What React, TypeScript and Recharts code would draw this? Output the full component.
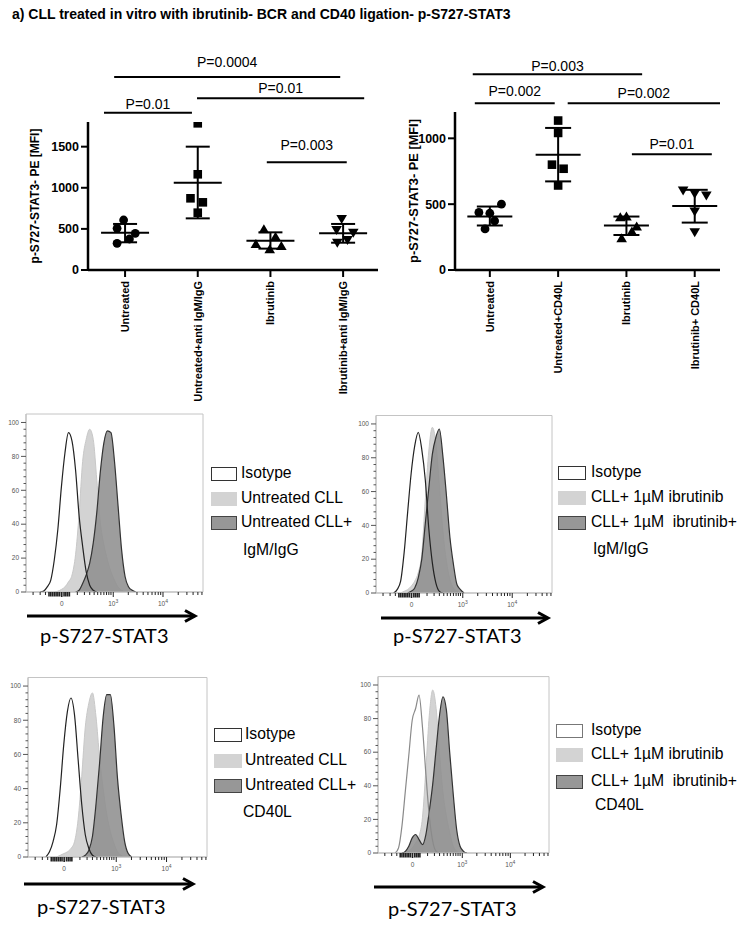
import React from 'react';
import {
  ComposedChart,
  Scatter,
  XAxis,
  YAxis,
  ErrorBar,
  ReferenceLine,
  AreaChart,
  Area,
  ReferenceArea,
} from 'recharts';

const FONT = '"Liberation Sans", Arial, Helvetica, sans-serif';

// ---------------- Scatter panels: data ----------------
const bcrCategories = ['Untreated', 'Untreated+anti IgM/IgG', 'Ibrutinib', 'Ibrutinib+anti IgM/IgG'];
const cd40Categories = ['Untreated', 'Untreated+CD40L', 'Ibrutinib', 'Ibrutinib+ CD40L'];
const bcrYTicks = [0, 500, 1000, 1500];
const cd40YTicks = [0, 500, 1000];

const bcrUntreated = [608, 507, 446, 377, 324];
const bcrUntreatedJitter = [-0.02, -0.11, 0.14, 0.06, -0.11];
const bcrStim = [1784, 1164, 872, 823, 697];
const bcrStimJitter = [0, 0, -0.1, 0.07, 0];
const bcrIbr = [495, 405, 316, 292, 251];
const bcrIbrJitter = [-0.09, 0.07, -0.2, 0.15, -0.01];
const bcrIbrStim = [620, 487, 454, 365, 332];
const bcrIbrStimJitter = [-0.02, -0.09, 0.14, 0.06, -0.08];
const bcrMean = [454, 1062, 357, 446];
const bcrSdLow = [337, 628, 260, 332];
const bcrSdHigh = [560, 1500, 458, 560];

const cd40Untreated = [437, 431, 500, 373, 312];
const cd40UntreatedJitter = [-0.16, 0, 0.17, 0.07, -0.07];
const cd40Stim = [1135, 1041, 800, 769, 642];
const cd40StimJitter = [0, 0, -0.09, 0.08, 0];
const cd40Ibr = [401, 406, 330, 292, 241];
const cd40IbrJitter = [-0.09, 0, 0.15, 0.08, -0.07];
const cd40IbrStim = [604, 579, 566, 444, 287];
const cd40IbrStimJitter = [-0.17, 0, 0.17, 0, 0];
const cd40Mean = [406, 876, 338, 487];
const cd40SdLow = [338, 673, 266, 360];
const cd40SdHigh = [482, 1079, 406, 609];

// significance brackets (x in category units, y in MFI units)
const bcrPLabels = ['P=0.0004', 'P=0.01', 'P=0.01', 'P=0.003'];
const bcrPFrom = [0.85, 0.71, 1.99, 2.95];
const bcrPTo = [3.96, 1.92, 4.29, 4.05];
const bcrPLevel = [2347, 1913, 2088, 1310];
const cd40PLabels = ['P=0.003', 'P=0.002', 'P=0.002', 'P=0.01'];
const cd40PFrom = [0.75, 0.78, 2.14, 3.08];
const cd40PTo = [3.23, 1.95, 4.37, 4.25];
const cd40PLevel = [1486, 1266, 1266, 879];

// ---------------- Histogram panels: data ----------------
const histU = [6, 8, 10, 12, 14, 16, 18, 20, 22, 24, 26, 28, 30, 32, 34, 36, 38, 40, 42, 44, 46, 48, 50, 52, 54, 56, 58, 60, 62, 64];
const N = null;
const h1Isotype = [N, 0, 0.5, 3, 7, 19, 37, 62, 82, 94, 89, 72, 45, 27, 12, 4, 1, 0, N, N, N, N, N, N, N, N, N, N, N, N];
const h1Untreated = [N, N, N, N, N, 0, 0.5, 1.5, 3, 6, 10, 22, 46, 77, 90, 96, 90, 66, 41, 28, 19, 12, 7, 3, 1, 0, N, N, N, N];
const h1Stim = [N, N, N, N, N, N, N, N, N, N, N, 0, 1, 5, 10, 17, 29, 47, 71, 88, 95, 94, 77, 51, 25, 9, 3, 1, 0, N];

const h2Isotype = [N, N, 0, 2, 7, 24, 48, 71, 87, 95, 85, 67, 38, 18, 6, 1, 0, N, N, N, N, N, N, N, N, N, N, N, N, N];
const h2Ibr = [N, N, N, N, 0, 1, 2, 4, 7, 12, 23, 55, 84, 98, 89, 64, 37, 19, 8, 3, 1, 0, N, N, N, N, N, N, N, N];
const h2IbrStim = [N, N, N, N, N, N, 0, 1, 3, 9, 20, 41, 62, 82, 92, 97, 81, 58, 33, 17, 5, 2, 0, N, N, N, N, N, N, N];

const h3Isotype = [N, N, 0, 3, 9, 19, 40, 66, 85, 93, 83, 57, 31, 13, 5, 1, 0, N, N, N, N, N, N, N, N, N, N, N, N, N];
const h3Untreated = [N, N, N, N, N, 0, 1, 2, 3, 5, 9, 22, 47, 76, 90, 96, 82, 58, 40, 25, 15, 8, 3, 1, 0, N, N, N, N, N];
const h3Stim = [N, N, N, N, N, N, N, N, N, N, N, N, 0, 1, 4, 12, 31, 55, 82, 95, 95, 77, 46, 25, 9, 2, 0, N, N, N];

const h4Isotype = [N, N, 0, 3, 16, 37, 58, 79, 86, 94, 75, 47, 22, 7, 1, 0, N, N, N, N, N, N, N, N, N, N, N, N, N, N];
const h4Ibr = [N, N, N, N, N, 0, 1, 3, 6, 10, 21, 50, 82, 97, 86, 59, 36, 22, 12, 4, 1, 0, N, N, N, N, N, N, N, N];
const h4IbrStim = [N, N, N, N, 0, 1, 4, 9, 11, 8, 5, 11, 25, 41, 62, 82, 93, 85, 59, 35, 14, 4, 1, 0, N, N, N, N, N, N];

const histXTicks = [4, 8, 11, 13, 14, 15, 16, 17, 18, 19, 20.2, 21.5, 22.5, 23.5, 24.5, 29, 33, 36, 38.5, 40.5, 42.3, 44, 45.5, 46.8, 48, 49.3, 57.8, 62.7, 66.2, 68.9, 71.2, 73, 74.7, 76.1, 77.4, 86, 90.9, 94.4, 97.1, 99.4];
const histXMajor = [20.2, 49.3, 77.4];
const histXMajorBase = ['0', '10', '10'];
const histXMajorExp = ['', '3', '4'];
const histYTicks = [0, 4, 8, 12, 16, 20, 24, 28, 32, 36, 40, 44, 48, 52, 56, 60, 64, 68, 72, 76, 80, 84, 88, 92, 96, 100];

const legendBCR1 = ['Isotype', 'Untreated CLL', 'Untreated CLL+', 'IgM/IgG'];
const legendBCR2 = ['Isotype', 'CLL+ 1\u00B5M ibrutinib', 'CLL+ 1\u00B5M  ibrutinib+', 'IgM/IgG'];
const legendCD1 = ['Isotype', 'Untreated CLL', 'Untreated CLL+', 'CD40L'];
const legendCD2 = ['Isotype', 'CLL+ 1\u00B5M ibrutinib', 'CLL+ 1\u00B5M  ibrutinib+', 'CD40L'];
const histAxisTitle = 'p-S727-STAT3';
const scatterYTitle = 'p-S727-STAT3- PE [MFI]';
const figureTitle = 'a) CLL treated in vitro with ibrutinib- BCR and CD40 ligation- p-S727-STAT3';

// ---------------- Shapes ----------------
const CircleShape = (p: any) => <circle cx={p.cx} cy={p.cy} r={4.4} fill="#000" />;
const SquareShape = (p: any) => <rect x={p.cx - 4.3} y={p.cy - 4.3} width={8.6} height={8.6} fill="#000" />;
const TriUpShape = (p: any) => (
  <path d={`M${p.cx},${p.cy - 5} L${p.cx + 5.3},${p.cy + 4} L${p.cx - 5.3},${p.cy + 4} Z`} fill="#000" />
);
const TriDownShape = (p: any) => (
  <path d={`M${p.cx},${p.cy + 5} L${p.cx + 5.3},${p.cy - 4} L${p.cx - 5.3},${p.cy - 4} Z`} fill="#000" />
);
const makeMeanShape = (half: number) => (p: any) => (
  <line x1={p.cx - half} x2={p.cx + half} y1={p.cy} y2={p.cy} stroke="#000" strokeWidth={2} />
);

const CatTick = (p: any) => {
  const { x, y, payload, labels } = p;
  const label = labels[Math.round(payload.value) - 1];
  return (
    <text
      x={x}
      y={y}
      transform={`rotate(-90 ${x} ${y})`}
      textAnchor="end"
      dy="0.36em"
      fontSize={11}
      fontWeight="bold"
      fontFamily={FONT}
      fill="#000"
    >
      {label}
    </text>
  );
};

type ScatterProps = {
  left: number;
  width: number;
  plotLeft: number;
  plotRight: number;
  plotTop: number;
  yMax: number;
  yTicks: number[];
  xDomain: [number, number];
  categories: string[];
  groups: { values: number[]; jitter: number[] }[];
  means: number[];
  sdLow: number[];
  sdHigh: number[];
  pLabels: string[];
  pFrom: number[];
  pTo: number[];
  pLevel: number[];
  pOffsets: number[];
  meanHalf: number;
  capHalf: number;
  titleOffset: number;
  titleSize: number;
};

const shapes = [CircleShape, SquareShape, TriUpShape, TriDownShape];

function ScatterPanel(props: ScatterProps) {
  const height = 420;
  const plotBottom = 270;
  const groupData = props.groups.map((g, gi) => g.values.map((v, i) => ({ x: gi + 1 + g.jitter[i], y: v })));
  const meanData = props.means.map((m, i) => ({ x: i + 1, y: m, err: [m - props.sdLow[i], props.sdHigh[i] - m] }));
  const MeanShape = makeMeanShape(props.meanHalf);
  return (
    <div style={{ position: 'absolute', left: props.left, top: 0 }}>
      <ComposedChart
        width={props.width}
        height={height}
        margin={{ top: props.plotTop, right: props.left + props.width - props.plotRight, bottom: 0, left: 0 }}
      >
        <XAxis
          type="number"
          dataKey="x"
          domain={props.xDomain}
          allowDataOverflow
          ticks={[1, 2, 3, 4]}
          interval={0}
          height={height - plotBottom}
          axisLine={{ stroke: '#000', strokeWidth: 2.5 }}
          tickLine={{ stroke: '#000', strokeWidth: 2 }}
          tickSize={7}
          tickMargin={4}
          tick={(p: any) => <CatTick {...p} labels={props.categories} />}
        />
        <YAxis
          type="number"
          dataKey="y"
          domain={[0, props.yMax]}
          allowDataOverflow
          ticks={props.yTicks}
          interval={0}
          width={props.plotLeft - props.left}
          axisLine={{ stroke: '#000', strokeWidth: 2.5 }}
          tickLine={{ stroke: '#000', strokeWidth: 2 }}
          tickSize={7}
          tickMargin={2}
          tick={{ fill: '#000', fontSize: 12.5, fontWeight: 'bold', fontFamily: FONT }}
          label={{
            value: scatterYTitle,
            angle: -90,
            position: 'insideLeft',
            offset: props.titleOffset,
            style: { textAnchor: 'middle', fontSize: props.titleSize, fontWeight: 'bold', fontFamily: FONT, fill: '#000' },
          }}
        />
        {props.pLabels.map((lab, i) => (
          <ReferenceLine
            key={'p' + i}
            segment={[
              { x: props.pFrom[i], y: props.pLevel[i] },
              { x: props.pTo[i], y: props.pLevel[i] },
            ]}
            stroke="#000"
            strokeWidth={2}
            ifOverflow="visible"
            label={{
              value: lab,
              position: 'top',
              offset: props.pOffsets[i],
              fontSize: 14,
              fontFamily: FONT,
              fill: '#000',
            }}
          />
        ))}
        {groupData.map((d, gi) => (
          <Scatter key={'g' + gi} data={d} shape={shapes[gi]} isAnimationActive={false} />
        ))}
        <Scatter data={meanData} shape={MeanShape} isAnimationActive={false}>
          <ErrorBar dataKey="err" direction="y" width={props.capHalf} stroke="#000" strokeWidth={2} />
        </Scatter>
      </ComposedChart>
    </div>
  );
}

// ---------------- Histograms ----------------
const HistXTick = (p: any) => {
  const { x, y, payload } = p;
  const v = payload.value;
  const mi = histXMajor.indexOf(v);
  const dense = v > 12.5 && v < 25;
  const len = mi >= 0 ? 5 : dense ? 4.5 : 3;
  return (
    <g>
      <line x1={x} x2={x} y1={y} y2={y + len} stroke="#222" strokeWidth={dense ? 1.6 : 1} />
      {mi >= 0 && (
        <text x={x} y={y + 14} textAnchor="middle" fontSize={6.5} fill="#555" fontFamily={FONT}>
          {histXMajorBase[mi]}
          {histXMajorExp[mi] ? (
            <tspan dy={-3} fontSize={5}>
              {histXMajorExp[mi]}
            </tspan>
          ) : null}
        </text>
      )}
    </g>
  );
};

const HistYTick = (p: any) => {
  const { x, y, payload } = p;
  const v = payload.value;
  const major = v % 20 === 0;
  return (
    <g>
      <line x1={x} x2={x - (major ? 5 : 2.5)} y1={y} y2={y} stroke="#555" strokeWidth={1} />
      {major && (
        <text x={x - 7} y={y} dy="0.35em" textAnchor="end" fontSize={6.5} fill="#555" fontFamily={FONT}>
          {v}
        </text>
      )}
    </g>
  );
};

type HistProps = {
  frame: { left: number; top: number; width: number; height: number };
  box: { x0: number; x1: number; yTop: number; yBottom: number };
  iso: (number | null)[];
  light: (number | null)[];
  dark: (number | null)[];
  isoStroke: string;
};

function HistPanel({ frame, box, iso, light, dark, isoStroke }: HistProps) {
  const data = histU.map((u, i) => ({ u, iso: iso[i], light: light[i], dark: dark[i] }));
  return (
    <div style={{ position: 'absolute', left: frame.left, top: frame.top }}>
      <AreaChart
        width={frame.width}
        height={frame.height}
        data={data}
        margin={{ top: box.yTop - frame.top, right: frame.left + frame.width - box.x1, bottom: 0, left: 0 }}
      >
        <XAxis
          type="number"
          dataKey="u"
          domain={[0, 100]}
          allowDataOverflow
          ticks={histXTicks}
          interval={0}
          height={frame.top + frame.height - box.yBottom}
          axisLine={{ stroke: '#bdbdbd' }}
          tickLine={false}
          tickSize={0}
          tickMargin={0}
          tick={HistXTick}
        />
        <YAxis
          type="number"
          domain={[0, 105]}
          allowDataOverflow
          ticks={histYTicks}
          interval={0}
          width={box.x0 - frame.left}
          axisLine={{ stroke: '#bdbdbd' }}
          tickLine={false}
          tickSize={0}
          tickMargin={0}
          tick={HistYTick}
        />
        <ReferenceArea x1={0} x2={100} y1={0} y2={105} fill="none" stroke="#c4c4c4" strokeWidth={1} ifOverflow="visible" />
        <Area
          type="monotone"
          dataKey="light"
          fill="#d3d3d3"
          fillOpacity={1}
          stroke="#c8c8c8"
          strokeWidth={1}
          dot={false}
          activeDot={false}
          isAnimationActive={false}
        />
        <Area
          type="monotone"
          dataKey="dark"
          fill="#8f8f8f"
          fillOpacity={0.88}
          stroke="#333"
          strokeWidth={1.2}
          dot={false}
          activeDot={false}
          isAnimationActive={false}
        />
        <Area
          type="monotone"
          dataKey="iso"
          fill="none"
          stroke={isoStroke}
          strokeWidth={1.2}
          dot={false}
          activeDot={false}
          isAnimationActive={false}
        />
      </AreaChart>
    </div>
  );
}

type LegendProps = {
  labels: string[];
  swatchX: number;
  swatchW: number;
  textX: number;
  rows: number[];
  lastX: number;
  lastY: number;
  isoBorder: string;
};

function HistLegend({ labels, swatchX, swatchW, textX, rows, lastX, lastY, isoBorder }: LegendProps) {
  const swatches = [
    { background: '#fff', border: `1px solid ${isoBorder}` },
    { background: '#d3d3d3', border: '1px solid #d3d3d3' },
    { background: '#979797', border: '1px solid #444' },
  ];
  const textStyle: React.CSSProperties = {
    position: 'absolute',
    fontFamily: FONT,
    fontSize: 15.7,
    lineHeight: '18px',
    color: '#000',
    whiteSpace: 'pre',
  };
  return (
    <>
      {rows.map((cy, i) => (
        <React.Fragment key={i}>
          <div
            style={{
              position: 'absolute',
              left: swatchX,
              top: cy - 7,
              width: swatchW,
              height: 14,
              boxSizing: 'border-box',
              ...swatches[i],
            }}
          />
          <div style={{ ...textStyle, left: textX, top: cy - 10 }}>{labels[i]}</div>
        </React.Fragment>
      ))}
      <div style={{ ...textStyle, left: lastX, top: lastY - 10 }}>{labels[3]}</div>
    </>
  );
}

const arrows = [
  { x1: 27, x2: 195, y: 616, tx: 40, ty: 643 },
  { x1: 381, x2: 548, y: 618, tx: 393, ty: 643 },
  { x1: 24, x2: 193, y: 884, tx: 37, ty: 914 },
  { x1: 374, x2: 543, y: 887, tx: 388, ty: 916 },
];

export default function App() {
  return (
    <div
      style={{
        position: 'absolute',
        left: 0,
        top: 0,
        width: 751,
        height: 926,
        background: '#fff',
        overflow: 'hidden',
        fontFamily: FONT,
      }}
    >
      <div
        style={{
          position: 'absolute',
          left: 12,
          top: 6,
          fontSize: 14,
          lineHeight: '16px',
          fontWeight: 'bold',
          whiteSpace: 'nowrap',
          color: '#000',
        }}
      >
        {figureTitle}
      </div>

      <ScatterPanel
        left={0}
        width={380}
        plotLeft={88}
        plotRight={378}
        plotTop={122}
        yMax={1800}
        yTicks={bcrYTicks}
        xDomain={[0.49, 4.48]}
        categories={bcrCategories}
        groups={[
          { values: bcrUntreated, jitter: bcrUntreatedJitter },
          { values: bcrStim, jitter: bcrStimJitter },
          { values: bcrIbr, jitter: bcrIbrJitter },
          { values: bcrIbrStim, jitter: bcrIbrStimJitter },
        ]}
        means={bcrMean}
        sdLow={bcrSdLow}
        sdHigh={bcrSdHigh}
        pLabels={bcrPLabels}
        pFrom={bcrPFrom}
        pTo={bcrPTo}
        pLevel={bcrPLevel}
        pOffsets={[10, 4, 5, 12]}
        meanHalf={24}
        capHalf={12}
        titleOffset={35}
        titleSize={12}
      />
      <ScatterPanel
        left={380}
        width={371}
        plotLeft={455}
        plotRight={720}
        plotTop={112}
        yMax={1200}
        yTicks={cd40YTicks}
        xDomain={[0.49, 4.37]}
        categories={cd40Categories}
        groups={[
          { values: cd40Untreated, jitter: cd40UntreatedJitter },
          { values: cd40Stim, jitter: cd40StimJitter },
          { values: cd40Ibr, jitter: cd40IbrJitter },
          { values: cd40IbrStim, jitter: cd40IbrStimJitter },
        ]}
        means={cd40Mean}
        sdLow={cd40SdLow}
        sdHigh={cd40SdHigh}
        pLabels={cd40PLabels}
        pFrom={cd40PFrom}
        pTo={cd40PTo}
        pLevel={cd40PLevel}
        pOffsets={[3, 7, 5, 5]}
        meanHalf={22.5}
        capHalf={13}
        titleOffset={33}
        titleSize={12.8}
      />

      <HistPanel
        frame={{ left: 0, top: 405, width: 215, height: 207 }}
        box={{ x0: 26, x1: 203, yTop: 414, yBottom: 592 }}
        iso={h1Isotype}
        light={h1Untreated}
        dark={h1Stim}
        isoStroke="#222"
      />
      <HistPanel
        frame={{ left: 350, top: 405, width: 212, height: 207 }}
        box={{ x0: 376, x1: 552, yTop: 415.5, yBottom: 593 }}
        iso={h2Isotype}
        light={h2Ibr}
        dark={h2IbrStim}
        isoStroke="#222"
      />
      <HistPanel
        frame={{ left: 0, top: 668, width: 217, height: 207 }}
        box={{ x0: 28, x1: 207, yTop: 677.5, yBottom: 857 }}
        iso={h3Isotype}
        light={h3Untreated}
        dark={h3Stim}
        isoStroke="#222"
      />
      <HistPanel
        frame={{ left: 350, top: 668, width: 210, height: 207 }}
        box={{ x0: 378, x1: 549, yTop: 676.6, yBottom: 853 }}
        iso={h4Isotype}
        light={h4Ibr}
        dark={h4IbrStim}
        isoStroke="#8a8a8a"
      />

      <HistLegend labels={legendBCR1} swatchX={211} swatchW={26} textX={241} rows={[474, 499, 523]} lastX={243} lastY={551} isoBorder="#333" />
      <HistLegend labels={legendBCR2} swatchX={558} swatchW={28} textX={591} rows={[473, 498, 523]} lastX={593} lastY={550} isoBorder="#333" />
      <HistLegend labels={legendCD1} swatchX={214} swatchW={28} textX={245} rows={[735, 761, 786]} lastX={243} lastY={813} isoBorder="#333" />
      <HistLegend labels={legendCD2} swatchX={556} swatchW={27} textX={591} rows={[731, 755, 782]} lastX={595} lastY={806} isoBorder="#777" />

      <svg width={751} height={926} style={{ position: 'absolute', left: 0, top: 0, pointerEvents: 'none' }}>
        {arrows.map((a, i) => (
          <g key={i}>
            <line x1={a.x1} x2={a.x2 - 2} y1={a.y} y2={a.y} stroke="#000" strokeWidth={3} />
            <polyline
              points={`${a.x2 - 10},${a.y - 5.5} ${a.x2},${a.y} ${a.x2 - 10},${a.y + 5.5}`}
              fill="none"
              stroke="#000"
              strokeWidth={3}
              strokeLinejoin="miter"
            />
            <text x={a.tx} y={a.ty} fontSize={20} fontFamily='Lato, "Open Sans", sans-serif' fill="#000">
              {histAxisTitle}
            </text>
          </g>
        ))}
      </svg>
    </div>
  );
}
